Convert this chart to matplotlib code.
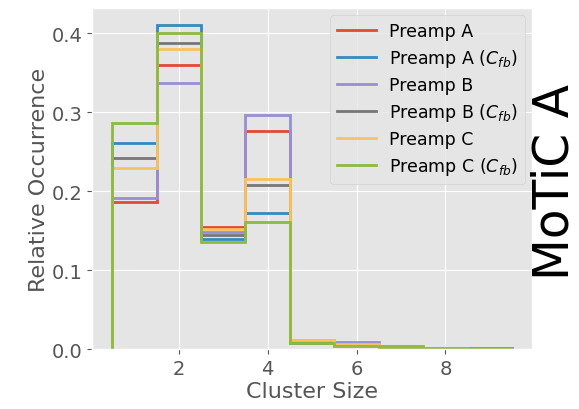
import numpy as np
import matplotlib
matplotlib.use("Agg")
import matplotlib.pyplot as plt

plt.style.use("ggplot")

# cluster size bins 1..9
cluster_sizes = np.arange(1, 10)
edges = np.arange(0.5, 10.0, 1.0)

preamp_a = [0.1865, 0.360, 0.155, 0.2763, 0.010, 0.006, 0.003, 0.002, 0.001]
preamp_a_cfb = [0.261, 0.4105, 0.1396, 0.172, 0.008, 0.005, 0.002, 0.0015, 0.0005]
preamp_b = [0.191, 0.3375, 0.148, 0.2969, 0.011, 0.0095, 0.004, 0.002, 0.001]
preamp_b_cfb = [0.2415, 0.3874, 0.1447, 0.2084, 0.009, 0.005, 0.002, 0.0015, 0.0005]
preamp_c = [0.230, 0.380, 0.1518, 0.2155, 0.012, 0.006, 0.003, 0.0015, 0.0005]
preamp_c_cfb = [0.2865, 0.400, 0.136, 0.1614, 0.0075, 0.004, 0.0025, 0.0015, 0.0005]

series = [
    (preamp_a, "Preamp A"),
    (preamp_a_cfb, r"Preamp A ($C_{fb}$)"),
    (preamp_b, "Preamp B"),
    (preamp_b_cfb, r"Preamp B ($C_{fb}$)"),
    (preamp_c, "Preamp C"),
    (preamp_c_cfb, r"Preamp C ($C_{fb}$)"),
]

fig = plt.figure(figsize=(5.79, 4.10), dpi=100)
ax = fig.add_axes([0.159, 0.146, 0.76, 0.831])

for vals, lab in series:
    ax.stairs(vals, edges, linewidth=2, label=lab)

ax.set_xlim(0.05, 9.95)
ax.set_ylim(0, 0.4316)
ax.set_xticks([2, 4, 6, 8])
ax.set_yticks([0.0, 0.1, 0.2, 0.3, 0.4])
ax.tick_params(labelsize=14)
ax.set_xlabel("Cluster Size", fontsize=16, labelpad=2)
ax.set_ylabel("Relative Occurrence", fontsize=16, labelpad=2)

ax.legend(loc="upper right", fontsize=12.5, handlelength=2.2, labelspacing=0.4,
          borderaxespad=0.4)

fig.text(0.958, 0.555, "MoTiC A", rotation=90, fontsize=35, color="black",
         ha="center", va="center")

fig.savefig("out.png", dpi=100)
